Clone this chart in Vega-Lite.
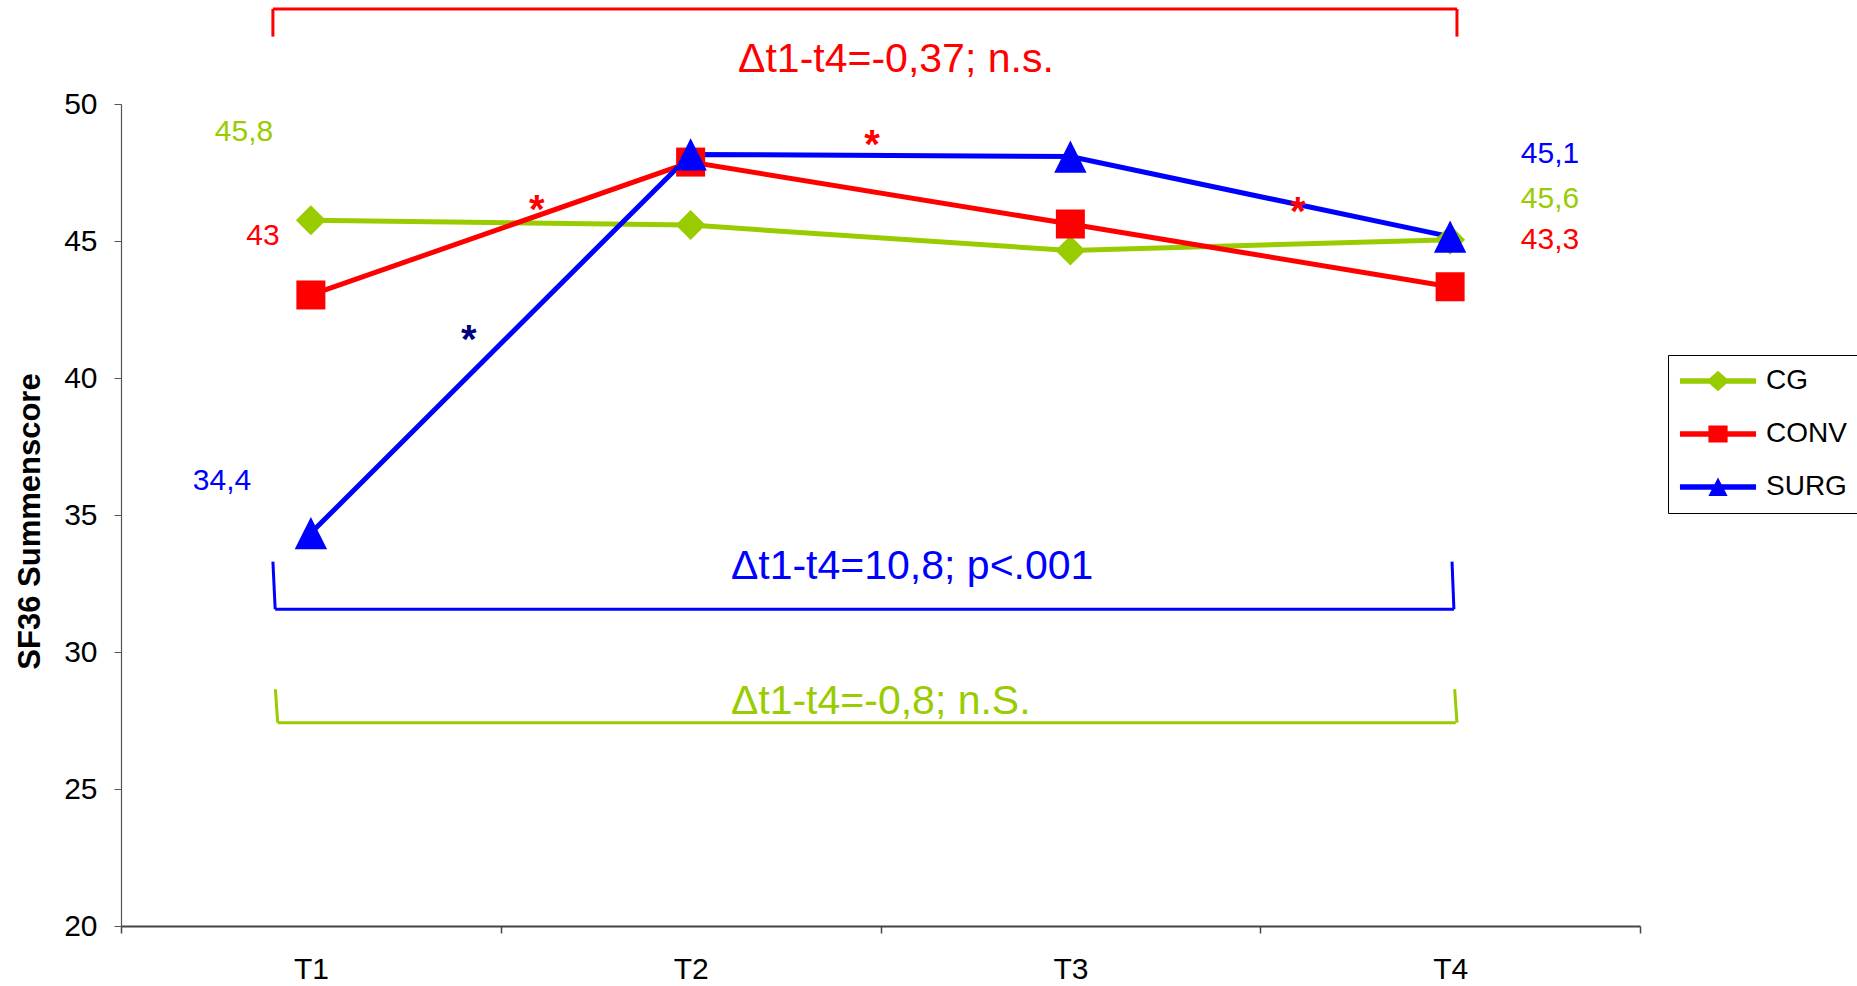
{
  "$schema": "https://vega.github.io/schema/vega-lite/v6.json",
  "autosize": {"type": "none"},
  "width": 1519,
  "height": 822,
  "padding": {"left": 121, "top": 104, "right": 217, "bottom": 60},
  "background": "white",
  "config": {"view": {"stroke": null}, "font": "Liberation Sans"},
  "datasets": {
    "scores": [
      {"group": "CG", "x": 1, "y": 45.76},
      {"group": "CG", "x": 2, "y": 45.58},
      {"group": "CG", "x": 3, "y": 44.65},
      {"group": "CG", "x": 4, "y": 45.05},
      {"group": "CONV", "x": 1, "y": 43.03},
      {"group": "CONV", "x": 2, "y": 47.88},
      {"group": "CONV", "x": 3, "y": 45.62},
      {"group": "CONV", "x": 4, "y": 43.33},
      {"group": "SURG", "x": 1, "y": 34.34},
      {"group": "SURG", "x": 2, "y": 48.16},
      {"group": "SURG", "x": 3, "y": 48.08},
      {"group": "SURG", "x": 4, "y": 45.16}
    ],
    "brackets": [
      {"group": "CONV", "x": 0.9, "y": 53.47, "x2": 4.018, "y2": 53.47},
      {"group": "CONV", "x": 0.9, "y": 53.47, "x2": 0.9, "y2": 52.46},
      {"group": "CONV", "x": 4.018, "y": 53.47, "x2": 4.018, "y2": 52.46},
      {"group": "SURG", "x": 0.906, "y": 31.56, "x2": 4.01, "y2": 31.56},
      {"group": "SURG", "x": 0.9, "y": 33.3, "x2": 0.906, "y2": 31.56},
      {"group": "SURG", "x": 4.005, "y": 33.3, "x2": 4.01, "y2": 31.56},
      {"group": "CG", "x": 0.9126, "y": 27.42, "x2": 4.015, "y2": 27.42},
      {"group": "CG", "x": 0.9066, "y": 28.64, "x2": 0.9126, "y2": 27.42},
      {"group": "CG", "x": 4.012, "y": 28.64, "x2": 4.018, "y2": 27.42}
    ],
    "valueLabels": [
      {"group": "CG", "x": 0.824, "y": 48.98, "text": "45,8"},
      {"group": "CONV", "x": 0.874, "y": 45.17, "text": "43"},
      {"group": "SURG", "x": 0.766, "y": 36.25, "text": "34,4"},
      {"group": "SURG", "x": 4.263, "y": 48.17, "text": "45,1"},
      {"group": "CG", "x": 4.263, "y": 46.54, "text": "45,6"},
      {"group": "CONV", "x": 4.263, "y": 45.05, "text": "43,3"}
    ],
    "deltaLabels": [
      {"group": "CONV", "x": 2.125, "y": 51.6, "text": "Δt1-t4=-0,37; n.s."},
      {"group": "SURG", "x": 2.106, "y": 33.12, "text": "Δt1-t4=10,8; p<.001"},
      {"group": "CG", "x": 2.106, "y": 28.17, "text": "Δt1-t4=-0,8; n.S."}
    ],
    "stars": [
      {"set": "A", "x": 1.595, "y": 46.5},
      {"set": "A", "x": 2.478, "y": 48.87},
      {"set": "A", "x": 3.599, "y": 46.42},
      {"set": "B", "x": 1.416, "y": 41.75}
    ]
  },
  "layer": [
    {
      "data": {"name": "brackets"},
      "mark": {"type": "rule", "strokeWidth": 3},
      "encoding": {
        "x": {
          "field": "x", "type": "quantitative",
          "scale": {"domain": [0.5, 4.5], "nice": false, "zero": false},
          "axis": {
            "title": null,
            "values": [0.5, 1, 1.5, 2, 2.5, 3, 3.5, 4, 4.5],
            "labelExpr": "datum.value % 1 == 0 ? 'T' + datum.value : ''",
            "labelOverlap": false, "labelFlush": false, "labelBound": false,
            "tickOpacity": {"condition": {"test": "datum.value % 1 == 0", "value": 0}, "value": 1},
            "tickSize": 7, "tickColor": "#444", "tickWidth": 1.5,
            "domainColor": "#444", "domainWidth": 2,
            "labelFont": "Liberation Sans", "labelFontSize": 30, "labelColor": "black",
            "labelPadding": 21, "grid": false
          }
        },
        "x2": {"field": "x2"},
        "y": {
          "field": "y", "type": "quantitative",
          "scale": {"domain": [20, 50], "nice": false, "zero": false},
          "axis": {
            "title": "SF36 Summenscore",
            "titleFont": "Liberation Sans", "titleFontSize": 31, "titleFontWeight": "bold", "titleColor": "black",
            "titleAngle": -90, "titleX": -82, "titleY": 417, "titleAlign": "center", "titleBaseline": "alphabetic",
            "values": [20, 25, 30, 35, 40, 45, 50],
            "tickSize": 7, "tickColor": "#555", "domainColor": "#555", "domainWidth": 1.2,
            "labelFont": "Liberation Sans", "labelFontSize": 30, "labelColor": "black",
            "labelPadding": 17, "grid": false
          }
        },
        "y2": {"field": "y2"},
        "color": {
          "field": "group", "type": "nominal",
          "scale": {"range": ["#99CC00", "#FF0000", "#0000FF"]},
          "legend": null
        }
      }
    },
    {
      "data": {"name": "scores"},
      "mark": {"type": "line", "strokeWidth": 5},
      "encoding": {
        "x": {"field": "x", "type": "quantitative"},
        "y": {"field": "y", "type": "quantitative"},
        "color": {"field": "group", "type": "nominal", "legend": null}
      }
    },
    {
      "data": {"name": "scores"},
      "transform": [{"filter": "datum.group == 'CG'"}],
      "mark": {"type": "point", "shape": "diamond", "size": 900, "filled": true, "opacity": 1, "color": "#99CC00", "strokeWidth": 0},
      "encoding": {
        "x": {"field": "x", "type": "quantitative"},
        "y": {"field": "y", "type": "quantitative"}
      }
    },
    {
      "data": {"name": "scores"},
      "transform": [{"filter": "datum.group == 'CONV'"}],
      "mark": {"type": "point", "shape": "square", "size": 841, "filled": true, "opacity": 1, "color": "#FF0000", "strokeWidth": 0},
      "encoding": {
        "x": {"field": "x", "type": "quantitative"},
        "y": {"field": "y", "type": "quantitative"}
      }
    },
    {
      "data": {"name": "scores"},
      "transform": [{"filter": "datum.group == 'SURG'"}],
      "mark": {"type": "point", "shape": "M0,-1L1,1L-1,1Z", "size": 1050, "filled": true, "opacity": 1, "color": "#0000FF", "strokeWidth": 0},
      "encoding": {
        "x": {"field": "x", "type": "quantitative"},
        "y": {"field": "y", "type": "quantitative"}
      }
    },
    {
      "data": {"name": "valueLabels"},
      "mark": {"type": "text", "fontSize": 30, "font": "Liberation Sans", "align": "center", "baseline": "middle"},
      "encoding": {
        "x": {"field": "x", "type": "quantitative"},
        "y": {"field": "y", "type": "quantitative"},
        "text": {"field": "text"},
        "color": {"field": "group", "type": "nominal", "legend": null}
      }
    },
    {
      "data": {"name": "deltaLabels"},
      "mark": {"type": "text", "fontSize": 41, "font": "Liberation Sans", "align": "left", "baseline": "middle"},
      "encoding": {
        "x": {"field": "x", "type": "quantitative"},
        "y": {"field": "y", "type": "quantitative"},
        "text": {"field": "text"},
        "color": {"field": "group", "type": "nominal", "legend": null}
      }
    },
    {
      "data": {"name": "stars"},
      "transform": [{"filter": "datum.set == 'A'"}],
      "mark": {"type": "text", "text": "*", "fontSize": 40, "fontWeight": "bold", "font": "Liberation Sans", "align": "center", "baseline": "middle", "dy": 11, "color": "#FF0000"},
      "encoding": {
        "x": {"field": "x", "type": "quantitative"},
        "y": {"field": "y", "type": "quantitative"}
      }
    },
    {
      "data": {"name": "stars"},
      "transform": [{"filter": "datum.set == 'B'"}],
      "mark": {"type": "text", "text": "*", "fontSize": 40, "fontWeight": "bold", "font": "Liberation Sans", "align": "center", "baseline": "middle", "dy": 11, "color": "#000080"},
      "encoding": {
        "x": {"field": "x", "type": "quantitative"},
        "y": {"field": "y", "type": "quantitative"}
      }
    },
    {
      "data": {"name": "scores"},
      "mark": {"type": "point", "filled": true, "opacity": 0},
      "encoding": {
        "x": {"field": "x", "type": "quantitative"},
        "y": {"field": "y", "type": "quantitative"},
        "fill": {
          "field": "group", "type": "nominal",
          "scale": {"domain": ["CG", "CONV", "SURG"], "range": ["#99CC00", "#FF0000", "#0000FF"]},
          "legend": {
            "title": null, "orient": "none", "legendX": 1547, "legendY": 251,
            "padding": 12, "strokeColor": "black", "fillColor": "white",
            "symbolSize": 576, "symbolOffset": 24, "symbolStrokeWidth": 0, "symbolOpacity": 1,
            "labelFont": "Liberation Sans", "labelFontSize": 28, "labelColor": "black", "labelOffset": 34,
            "rowPadding": 25, "labelLimit": 300,
            "encoding": {"symbols": {
              "shape": {
                "condition": [
                  {"test": "datum.value === 'CG'", "value": "M-3.17,-0.22H3.17V0.22H-3.17Z M0,-0.86L0.96,0L0,0.86L-0.96,0Z"},
                  {"test": "datum.value === 'CONV'", "value": "M-3.17,-0.22H3.17V0.22H-3.17Z M-0.8,-0.7H0.8V0.7H-0.8Z"}
                ],
                "value": "M-3.17,-0.22H3.17V0.22H-3.17Z M0,-0.8L0.8,0.75H-0.8Z"
              }
            }}
          }
        }
      }
    }
  ]
}
